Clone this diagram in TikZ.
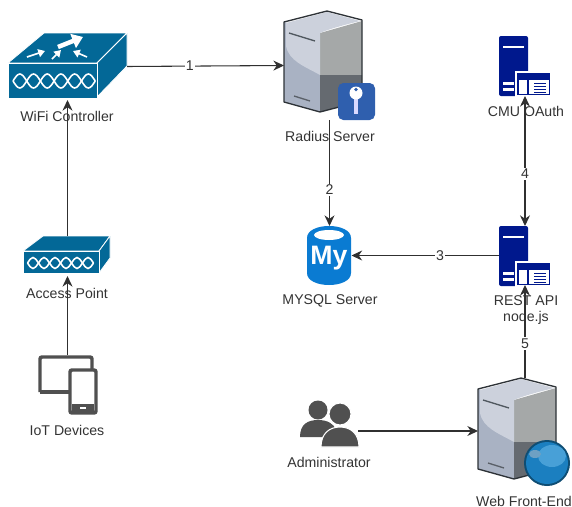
\documentclass[tikz,border=0pt]{standalone}
\usepackage{fontspec}
\setmainfont{Liberation Sans}
\usetikzlibrary{arrows.meta}
\definecolor{ciscoblue}{HTML}{036897}
\definecolor{servernavy}{HTML}{00188D}
\definecolor{mysqlblue}{HTML}{0A7BD2}
\definecolor{icongray}{HTML}{505050}
\definecolor{textgray}{HTML}{333333}
\definecolor{linegray}{HTML}{303030}
\tikzset{
  iconbox/.style 2 args={minimum width=#1*0.75pt, minimum height=#2*0.75pt, inner sep=0pt, outer sep=0pt},
  lbl/.style={text=textgray, font=\fontsize{10.6pt}{12pt}\selectfont, inner sep=0pt, align=center},
  link/.style={draw=linegray, line width=0.8pt, -{Stealth[length=8pt,width=7.5pt]}},
  twoway/.style={draw=linegray, line width=0.8pt, {Stealth[length=8pt,width=7.5pt]}-{Stealth[length=8pt,width=7.5pt]}},
  num/.style={fill=white, text=textgray, font=\fontsize{10.6pt}{12pt}\selectfont, inner sep=1pt},
  ciscoface/.style={fill=ciscoblue, draw=white, line width=0.6pt, line join=round},
}
% one lobe chain
\newcommand{\chainicon}[4]{
  \foreach \i in {0,...,5}{
    \draw [white, line width=1.2pt] ({#1+\i*#3},#2) sin ({#1+\i*#3+#3/2},#2-#4) cos ({#1+\i*#3+#3},#2);
    \draw [white, line width=1.2pt] ({#1+\i*#3},#2) sin ({#1+\i*#3+#3/2},#2+#4) cos ({#1+\i*#3+#3},#2);
  }
}
% grey server, origin at top left of its box
\newcommand{\servericon}[2]{
  \begin{scope}[shift={(#1,#2)}]
  \fill [color={rgb,255:red,169;green,178;blue,195}] (0,11) -- (36,22) -- (36,101) -- (0,91) -- cycle;
  \fill [color={rgb,255:red,165;green,168;blue,168}] (36,22) -- (78,10) -- (78,64) -- (36,64) -- cycle;
  \fill [color={rgb,255:red,101;green,106;blue,112}] (36,64) -- (78,64) -- (78,90) -- (36,101) -- cycle;
  \fill [color={rgb,255:red,204;green,209;blue,220}] (2,12) -- (43,1) -- (76,10) .. controls (60,14) and (45,18) .. (36,22) -- (36,64) .. controls (20,55) and (5,50) .. (2,35) -- cycle;
  \draw [color={rgb,255:red,45;green,50;blue,55}, line width=1pt, line join=round] (0,11) -- (43,0) -- (78,9) -- (78,90) -- (36,101) -- (0,91) -- cycle;
  \draw [color={rgb,255:red,80;green,88;blue,95}, line width=1pt] (5,22) -- (31,30);
  \draw [color={rgb,255:red,90;green,96;blue,104}, line width=1pt] (10,85) -- (26,90);
  \end{scope}
}
% navy server with window, origin at top left of its box
\newcommand{\apiicon}[2]{
  \begin{scope}[shift={(#1,#2)}]
  \fill [servernavy, rounded corners=1.5pt] (0,0) rectangle (29,60);
  \fill [white] (4,9.5) rectangle (25,12);
  \fill [white] (4,46) rectangle (15,48.5);
  \fill [white] (4,52) rectangle (15,54.5);
  \fill [servernavy, draw=white, line width=0.8pt] (17,36) rectangle (52,60);
  \fill [white] (20,44) rectangle (28,58);
  \fill [white] (30,44) rectangle (50,58);
  \foreach \y in {47,50,53,56}{
    \draw [servernavy, line width=0.7pt] (35,\y) -- (47,\y);
  }
  \end{scope}
}
\begin{document}
\begin{tikzpicture}[x=0.75pt,y=-0.75pt]
\useasboundingbox (0,0) rectangle (572,507);

% wifi controller
\fill [ciscoface] (8,63) -- (44,33) -- (127,33) -- (97,63) -- cycle;
\fill [ciscoface] (97,63) -- (127,33) -- (127,66) -- (97,97) -- cycle;
\fill [ciscoface] (8,63) rectangle (97,98);
\chainicon{13}{81}{13.7}{7}
\draw [white, line width=3.4pt, -{Triangle[length=8pt,width=11pt]}] (58,47) -- (83,37);
\draw [white, line width=1.2pt, -{Triangle[length=5pt,width=6pt]}] (27,57) -- (45,51);
\draw [white, line width=1.2pt, -{Triangle[length=5pt,width=6pt]}] (52,59) -- (61,50);
\draw [white, line width=1.2pt, -{Triangle[length=5pt,width=6pt]}] (87,57) -- (73,51);

% access point
\fill [ciscoface] (23,251) -- (43,236) -- (110,236) -- (99,251) -- cycle;
\fill [ciscoface] (99,251) -- (110,236) -- (110,258) -- (99,273) -- cycle;
\fill [ciscoface] (23,251) rectangle (99,273);
\chainicon{27.5}{263}{11}{5.5}

% iot devices
\draw [icongray, line width=2.6pt, rounded corners=1.5pt] (40,392) -- (40,357) -- (92,357) -- (92,372);
\draw [icongray, line width=2.6pt] (40,392) -- (70,392);
\fill [white, draw=icongray, line width=2.6pt, rounded corners=1.5pt] (70,370) rectangle (96,413);
\fill [white] (73,374) rectangle (93,404);
\fill [icongray] (72,404) rectangle (94,412);
\fill [white] (80,407) rectangle (86,409);

% radius server
\servericon{284}{11}
\fill [color={rgb,255:red,47;green,95;blue,174}, rounded corners=4pt] (338,83) rectangle (375,120);
\fill [white!85!blue] (354,96) rectangle (358,114);
\fill [white] (356,93) circle (6.5);
\fill [color={rgb,255:red,47;green,95;blue,174}] (356,89.5) circle (1.8);

% mysql
\fill [mysqlblue] (307,238) .. controls (307,222) and (351,222) .. (351,238) -- (351,273) .. controls (351,289) and (307,289) .. (307,273) -- cycle;
\fill [white] (329,235) ellipse (15 and 5);

% navy servers
\apiicon{499}{36}
\apiicon{499}{226}

% administrator
\fill [icongray] (318,410) circle (9.5);
\fill [icongray] (300,437) .. controls (300,424) and (308,420) .. (318,420) .. controls (328,420) and (334,424) .. (336,430) -- (322,437) -- cycle;
\fill [icongray, draw=white, line width=0.8pt] (340,414) circle (11);
\fill [icongray, draw=white, line width=0.8pt] (321,447) .. controls (321,433) and (330,427) .. (340,427) .. controls (350,427) and (359,433) .. (359,447) -- cycle;

% web front-end
\servericon{478}{378}
\fill [color={rgb,255:red,15;green,77;blue,115}] (547,463) circle (23);
\fill [color={rgb,255:red,27;green,127;blue,192}] (547,463) circle (21);
\fill [color={rgb,255:red,72;green,160;blue,215}] (552,456) ellipse (14 and 11);
\fill [color={rgb,255:red,110;green,160;blue,195}] (535,454) ellipse (6 and 4);

% invisible boxes, used by the arrows
\node [iconbox={119}{67}] (wifi) at (67.5,66.5) {};
\node [iconbox={87}{40}] (ap) at (67.5,256) {};
\node [iconbox={59}{59}] (iot) at (67.5,384.5) {};
\node [iconbox={91}{109}] (radius) at (329.5,65.5) {};
\node [iconbox={44}{59}] (mysql) at (329.5,255.5) {};
\node [iconbox={52}{60}] (cmu) at (525,66) {};
\node [iconbox={52}{59}] (rest) at (525,255.5) {};
\node [iconbox={58}{60}] (admin) at (329,431) {};
\node [iconbox={94}{106}] (web) at (525,431) {};

\node [lbl] (wifilbl) at (67,116) {WiFi Controller};
\node [lbl] (aplbl) at (67,293) {Access Point};
\node [lbl] (iotlbl) at (67,430) {IoT Devices};
\node [lbl] (radiuslbl) at (330,136) {Radius Server};
\node [lbl] (mysqllbl) at (330,301) {MYSQL Server};
\node [lbl] (cmulbl) at (526,111) {CMU OAuth};
\node [lbl] (restlbl) at (526,310) {REST API\\node.js};
\node [lbl] (adminlbl) at (329,462) {Administrator};
\node [lbl] (weblbl) at (524,501) {Web Front-End};
\node [text=white, font=\fontsize{20pt}{20pt}\bfseries\selectfont, inner sep=0pt] (mylogo) at (329,258) {My};

\draw [link] (iot.north) -- (ap.south);
\draw [link] (ap.north) -- (wifi.south);
\draw [link] (wifi.east) -- node [num, pos=.4] (one) {1} (radius.west);
\draw [link] (radius.south) -- node [num, pos=.66] (two) {2} (mysql.north);
\draw [link] (rest.west) -- node [num, pos=.4] (three) {3} (mysql.east);
\draw [twoway] (rest.north) -- node [num, pos=.4] (four) {4} (cmu.south);
\draw [link] (web.north) -- node [num, pos=.37] (five) {5} (rest.south);
\draw [link] (admin.east) -- (web.west);

\end{tikzpicture}
\end{document}
